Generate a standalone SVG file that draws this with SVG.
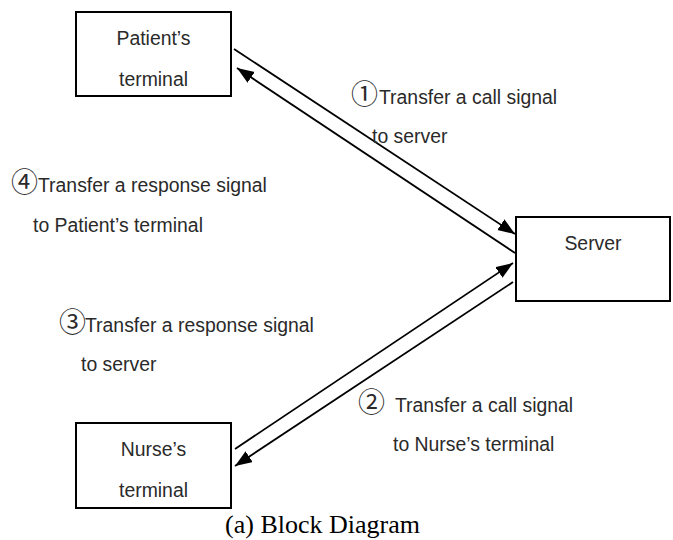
<svg xmlns="http://www.w3.org/2000/svg" width="673" height="540" viewBox="0 0 673 540">
  <style>
    .box { fill: #fff; stroke: #000; stroke-width: 2; }
    .lbl { font-family: "Liberation Sans", Arial, sans-serif; font-size: 19.4px; fill: #2a2a2a; }
    .mid { text-anchor: middle; }
    .num { font-family: "Noto Sans CJK JP", "DejaVu Sans", sans-serif; font-size: 27px; }
    .link { stroke: #000; stroke-width: 1.8; fill: none; marker-end: url(#head); }
    .cap { font-family: "Liberation Serif", "Times New Roman", serif; font-size: 26px; fill: #000; text-anchor: middle; }
  </style>
  <defs>
    <marker id="head" markerUnits="userSpaceOnUse" markerWidth="18" markerHeight="14" refX="17" refY="6.5" orient="auto">
      <path d="M0,0 L17,6.5 L0,13 z" fill="#000"/>
    </marker>
  </defs>

  <rect width="673" height="540" fill="#fff"/>

  <g id="patient">
    <rect class="box" x="76" y="12" width="155" height="84"/>
    <text class="lbl mid" x="153.5" y="45">Patient’s</text>
    <text class="lbl mid" x="153.5" y="86">terminal</text>
  </g>

  <g id="server">
    <rect class="box" x="516" y="217" width="154" height="84"/>
    <text class="lbl mid" x="593" y="250">Server</text>
  </g>

  <g id="nurse">
    <rect class="box" x="76" y="423" width="155" height="85"/>
    <text class="lbl mid" x="153.5" y="456">Nurse’s</text>
    <text class="lbl mid" x="153.5" y="497">terminal</text>
  </g>

  <g id="connectors">
    <line class="link" x1="234" y1="49" x2="515" y2="234"/>
    <line class="link" x1="515" y1="253" x2="237" y2="68"/>
    <line class="link" x1="235" y1="449" x2="513" y2="263"/>
    <line class="link" x1="513" y1="282" x2="235" y2="466"/>
  </g>

  <g id="labels">
    <text class="lbl" y="104"><tspan class="num" x="351">①</tspan><tspan x="379">Transfer a call signal</tspan></text>
    <text class="lbl" x="372" y="143">to server</text>

    <text class="lbl" y="192"><tspan class="num" x="11">④</tspan><tspan x="38">Transfer a response signal</tspan></text>
    <text class="lbl" x="33" y="232">to Patient’s terminal</text>

    <text class="lbl" y="332"><tspan class="num" x="59">③</tspan><tspan x="85">Transfer a response signal</tspan></text>
    <text class="lbl" x="81" y="371">to server</text>

    <text class="lbl" y="412"><tspan class="num" x="358">②</tspan><tspan x="395">Transfer a call signal</tspan></text>
    <text class="lbl" x="393" y="451">to Nurse’s terminal</text>
  </g>

  <text class="cap" x="322.5" y="533">(a) Block Diagram</text>
</svg>
